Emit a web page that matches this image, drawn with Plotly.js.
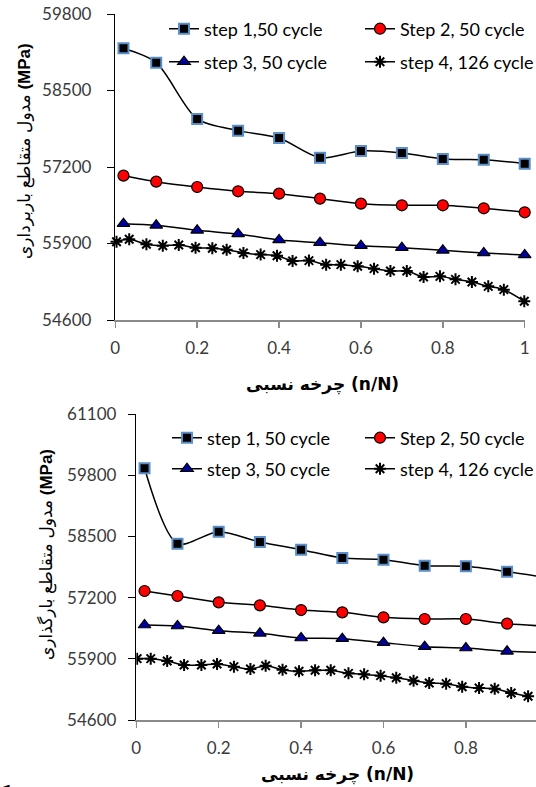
<!DOCTYPE html>
<html>
<head>
<meta charset="utf-8">
<script src="https://cdn.plot.ly/plotly-3.0.1.min.js"></script>
<style>html,body{margin:0;padding:0;background:#fff;}#chart{width:536px;height:787px;}</style>
</head>
<body>
<div id="chart"></div>
<script>
// ---------- data ----------
const seriesNames = ["step 1,50 cycle", "Step 2, 50 cycle", "step 3, 50 cycle", "step 4, 126 cycle"];
const seriesNamesB = ["step 1, 50 cycle", "Step 2, 50 cycle", "step 3, 50 cycle", "step 4, 126 cycle"];

// top chart (unloading)
const topX = [0.02, 0.1, 0.2, 0.3, 0.4, 0.5, 0.6, 0.7, 0.8, 0.9, 1.0];
const topStep1 = [59217, 58973, 58016, 57818, 57693, 57359, 57472, 57438, 57336, 57325, 57257];
const topStep2 = [57053, 56951, 56860, 56787, 56747, 56662, 56577, 56549, 56549, 56498, 56430];
const topStep3 = [56237, 56209, 56124, 56062, 55960, 55914, 55863, 55829, 55784, 55739, 55705];
const topStep4X = [0.003, 0.034, 0.076, 0.116, 0.155, 0.196, 0.237, 0.272, 0.313, 0.355, 0.395, 0.433, 0.473,
                   0.515, 0.551, 0.592, 0.632, 0.672, 0.712, 0.753, 0.793, 0.831, 0.871, 0.911, 0.949, 0.999];
const topStep4 = [55931, 55971, 55886, 55863, 55875, 55829, 55818, 55795, 55739, 55711, 55693, 55603, 55609,
                  55541, 55541, 55512, 55473, 55433, 55433, 55331, 55342, 55291, 55246, 55172, 55116, 54918];

// bottom chart (loading)
const botX = [0.02, 0.1, 0.2, 0.3, 0.4, 0.5, 0.6, 0.7, 0.8, 0.9, 1.0];
const botStep1 = [59946, 58345, 58600, 58381, 58218, 58041, 58006, 57878, 57864, 57751, 57620];
const botStep2 = [57340, 57234, 57099, 57036, 56936, 56887, 56781, 56745, 56745, 56646, 56590];
const botStep3 = [56618, 56597, 56497, 56441, 56342, 56328, 56243, 56158, 56129, 56059, 56032];
const botStep4X = [0.002, 0.035, 0.075, 0.116, 0.158, 0.196, 0.237, 0.277, 0.314, 0.355, 0.395, 0.434, 0.472,
                   0.515, 0.553, 0.593, 0.631, 0.673, 0.711, 0.752, 0.791, 0.832, 0.870, 0.910, 0.951];
const botStep4 = [55903, 55903, 55853, 55768, 55768, 55789, 55733, 55683, 55754, 55669, 55634, 55655, 55655,
                  55591, 55570, 55542, 55499, 55435, 55386, 55372, 55308, 55280, 55265, 55173, 55103];

// ticks and titles
const topXTicks = [0, 0.2, 0.4, 0.6, 0.8, 1];
const topXTickText = ["0", "0.2", "0.4", "0.6", "0.8", "1"];
const botXTicks = [0, 0.2, 0.4, 0.6, 0.8];
const botXTickText = ["0", "0.2", "0.4", "0.6", "0.8"];
const topYTicks = [54600, 55900, 57200, 58500, 59800];
const botYTicks = [54600, 55900, 57200, 58500, 59800, 61100];
const topYTitle = "مدول متقاطع باربرداری <b>(MPa)</b>";
const botYTitle = "مدول متقاطع بارگذاری <b>(MPa)</b>";
const xTitle = "چرخه نسبی (n/N)";
const captionText = "شکل";

// ---------- styles ----------
const W = 536, H = 787;
const lineStyle = {color: "#000", width: 1.5, shape: "spline", smoothing: 0.8};
const mk = [
  {symbol: "square", size: 10, color: "#000", line: {color: "#5B8FC9", width: 2}},
  {symbol: "circle", size: 11, color: "#FF0000", line: {color: "#000", width: 1.2}},
  {symbol: "triangle-up", size: 11, color: "#0000A0", line: {color: "#000", width: 1.2}},
  {symbol: "asterisk-open", size: 10, color: "#000", line: {color: "#000", width: 2}}
];
const topLegends = ["legend", "legend", "legend3", "legend3"];
const botLegends = ["legend2", "legend2", "legend4", "legend4"];

function tr(x, y, i, names, xa, ya, leg, clip) {
  return {x: x, y: y, name: names[i], type: "scatter", mode: "lines+markers",
          line: lineStyle, marker: mk[i], xaxis: xa, yaxis: ya, legend: leg, cliponaxis: clip};
}

const data = [
  tr(topX, topStep1, 0, seriesNames, "x", "y", topLegends[0], false),
  tr(topX, topStep2, 1, seriesNames, "x", "y", topLegends[1], false),
  tr(topX, topStep3, 2, seriesNames, "x", "y", topLegends[2], false),
  tr(topStep4X, topStep4, 3, seriesNames, "x", "y", topLegends[3], false),
  tr(botX, botStep1, 0, seriesNamesB, "x2", "y2", botLegends[0], true),
  tr(botX, botStep2, 1, seriesNamesB, "x2", "y2", botLegends[1], true),
  tr(botX, botStep3, 2, seriesNamesB, "x2", "y2", botLegends[2], true),
  tr(botStep4X, botStep4, 3, seriesNamesB, "x2", "y2", botLegends[3], true)
];

const tickFont = {family: "Lato, 'Open Sans', sans-serif", size: 17, color: "#3a3a3a"};
const yTitleFont = {family: "'Liberation Sans', 'DejaVu Sans', sans-serif", size: 17, color: "#000"};
const xTitleFont = {family: "'DejaVu Sans', sans-serif", size: 17, color: "#000", weight: "bold"};
const legendFont = {family: "Lato, 'Open Sans', sans-serif", size: 18, color: "#000"};

function px2x(p) { return p / W; }
function px2y(p) { return 1 - p / H; }

const xBase = {showgrid: false, zeroline: false, showline: true, linecolor: "#8a8a8a", linewidth: 2,
               ticks: "outside", ticklen: 6, tickcolor: "#8a8a8a", tickwidth: 1.5, tickfont: tickFont,
               tickmode: "array", ticklabelstandoff: 6, automargin: false};
const yBase = {showgrid: false, zeroline: false, showline: true, linecolor: "#000", linewidth: 1.5,
               ticks: "outside", ticklen: 7, tickcolor: "#000", tickwidth: 1, tickfont: tickFont,
               tickmode: "array", automargin: false};

function leg(xpx, ypx, ew) {
  return {orientation: "h", x: px2x(xpx), y: px2y(ypx), xanchor: "left", yanchor: "middle",
          entrywidth: ew, entrywidthmode: "pixels", bgcolor: "rgba(0,0,0,0)", borderwidth: 0,
          font: legendFont, itemwidth: 30, tracegroupgap: 0};
}

const layout = {
  width: W, height: H,
  margin: {l: 0, r: 0, t: 0, b: 0, autoexpand: false},
  paper_bgcolor: "#fff", plot_bgcolor: "#fff",
  showlegend: true,
  xaxis: Object.assign({}, xBase, {domain: [px2x(115.3), px2x(524.7)], range: [0, 1],
          tickvals: topXTicks, ticktext: topXTickText, anchor: "y"}),
  yaxis: Object.assign({}, yBase, {domain: [px2y(320), px2y(14)], range: [54600, 59800],
          tickvals: topYTicks, ticktext: topYTicks.map(String), anchor: "x", ticklabelstandoff: 12}),
  xaxis2: Object.assign({}, xBase, {domain: [px2x(136.3), 1], range: [0, 0.9702],
          tickvals: botXTicks, ticktext: botXTickText, anchor: "y2"}),
  yaxis2: Object.assign({}, yBase, {domain: [px2y(720), px2y(414)], range: [54600, 61100],
          tickvals: botYTicks, ticktext: botYTicks.map(String), anchor: "x2", ticklabelstandoff: 8}),
  legend: leg(164, 29, 151),
  legend3: leg(164, 62, 151),
  legend2: leg(167, 438, 148),
  legend4: leg(167, 469, 148),
  annotations: [
    {text: topYTitle, xref: "paper", yref: "paper", x: px2x(25), y: px2y(151), textangle: -90,
     showarrow: false, font: yTitleFont, xanchor: "center", yanchor: "middle"},
    {text: botYTitle, xref: "paper", yref: "paper", x: px2x(46), y: px2y(555), textangle: -90,
     showarrow: false, font: yTitleFont, xanchor: "center", yanchor: "middle"},
    {text: xTitle, xref: "paper", yref: "paper", x: px2x(322), y: px2y(384),
     showarrow: false, font: xTitleFont, xanchor: "center", yanchor: "middle"},
    {text: xTitle, xref: "paper", yref: "paper", x: px2x(337), y: px2y(774),
     showarrow: false, font: xTitleFont, xanchor: "center", yanchor: "middle"},
    {text: captionText, xref: "paper", yref: "paper", x: px2x(27), y: px2y(791),
     showarrow: false, font: Object.assign({}, xTitleFont, {size: 16}), xanchor: "right", yanchor: "middle"}
  ]
};

Plotly.newPlot("chart", data, layout, {displayModeBar: false, staticPlot: true});
</script>
</body>
</html>
